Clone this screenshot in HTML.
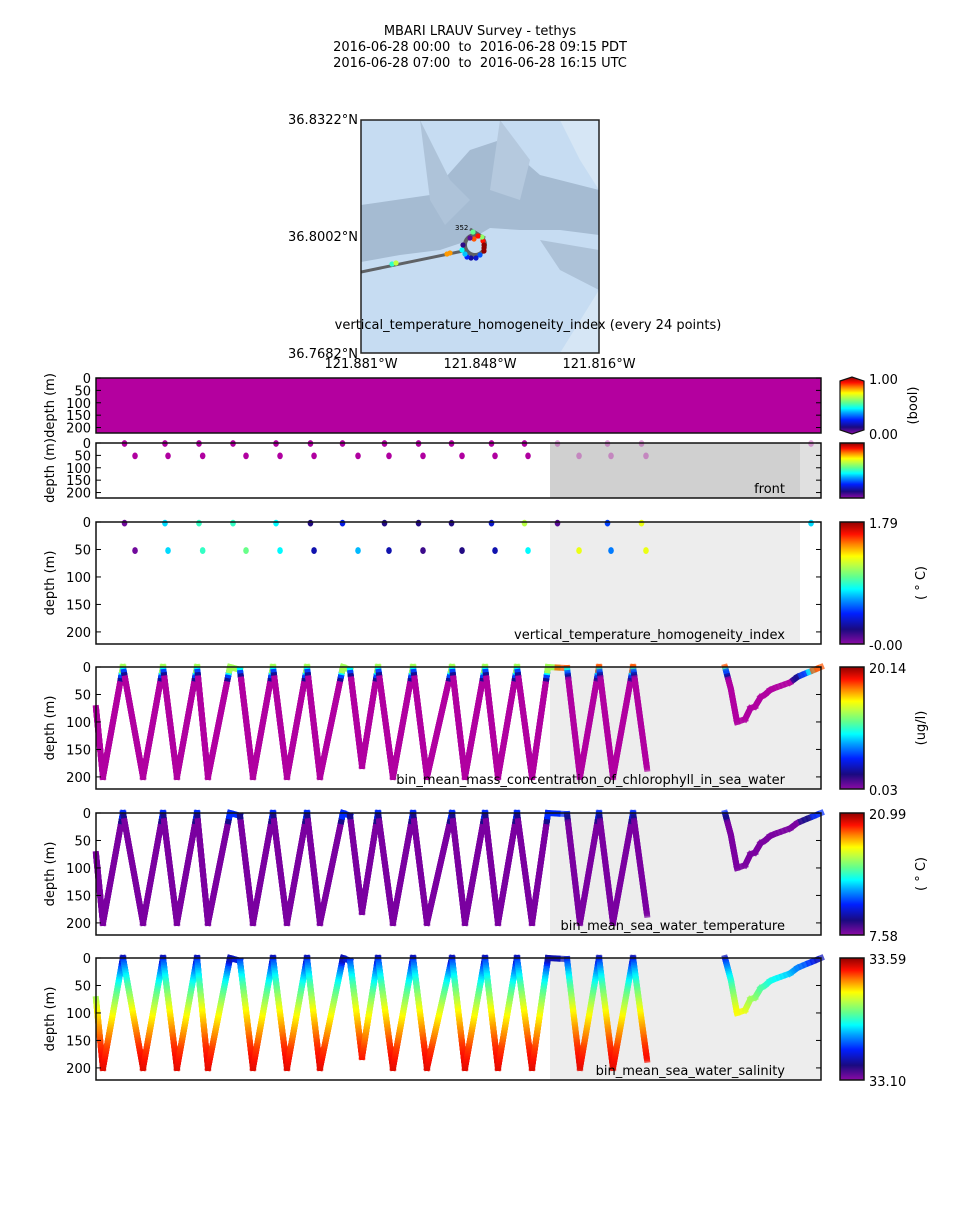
<!DOCTYPE html>
<html><head><meta charset="utf-8"><style>
html,body{margin:0;padding:0;background:#fff}
svg text{font-family:"DejaVu Sans","Liberation Sans",sans-serif;fill:#000}
</style></head><body>
<svg id="chart" width="960" height="1200" viewBox="0 0 960 1200" xmlns="http://www.w3.org/2000/svg">
<defs>
<linearGradient id="cmap" x1="0" y1="1" x2="0" y2="0">
<stop offset="0" stop-color="#8b0aa5"/><stop offset="0.12" stop-color="#1a0a80"/><stop offset="0.25" stop-color="#0020ff"/><stop offset="0.37" stop-color="#00a0ff"/><stop offset="0.45" stop-color="#00ffff"/><stop offset="0.55" stop-color="#60ff90"/><stop offset="0.65" stop-color="#c0ff40"/><stop offset="0.72" stop-color="#ffff00"/><stop offset="0.82" stop-color="#ff8000"/><stop offset="0.9" stop-color="#ff1000"/><stop offset="1" stop-color="#900000"/>
</linearGradient>
<clipPath id="mapclip"><rect x="361" y="120" width="238" height="233"/></clipPath>
</defs>
<g font-size="13" text-anchor="middle">
<text x="480" y="35">MBARI LRAUV Survey - tethys</text>
<text x="480" y="51">2016-06-28 00:00&#160; to&#160; 2016-06-28 09:15 PDT</text>
<text x="480" y="67">2016-06-28 07:00&#160; to&#160; 2016-06-28 16:15 UTC</text>
</g>
<g>
<g clip-path="url(#mapclip)">
<rect x="361" y="120" width="238" height="233" fill="#c6dcf2"/>
<path d="M361,205 L430,195 L470,150 L500,140 L540,175 L599,190 L599,235 L560,230 L520,230 L490,228 L470,240 L440,250 L400,255 L361,262 Z" fill="#a5bbd2"/>
<path d="M420,120 L450,180 L470,200 L445,225 L430,200 Z" fill="#aec3d9"/>
<path d="M500,120 L530,160 L520,200 L490,190 Z" fill="#b5c9de"/>
<path d="M540,240 L599,250 L599,290 L560,270 Z" fill="#adc2d8"/>
<path d="M560,120 L599,120 L599,190 L580,160 Z" fill="#d6e6f5"/>
<path d="M560,353 L599,290 L599,353 Z" fill="#d6e6f5"/>
<line x1="361" y1="272" x2="468" y2="250" stroke="#5f6266" stroke-width="3"/>
<circle cx="475" cy="245" r="10" fill="none" stroke="#5f6266" stroke-width="4"/>
<line x1="470" y1="229" x2="485" y2="238" stroke="#5f6266" stroke-width="3"/>
<text x="455" y="230" font-size="7" fill="#555">352</text>
<g id="mapdots"></g>
</g>
<rect x="361" y="120" width="238" height="233" fill="none" stroke="#222" stroke-width="1.5"/>
<g font-size="13">
<text x="358" y="124" text-anchor="end">36.8322°N</text>
<text x="358" y="241" text-anchor="end">36.8002°N</text>
<text x="358" y="358" text-anchor="end">36.7682°N</text>
<text x="361" y="368" text-anchor="middle">121.881°W</text>
<text x="480" y="368" text-anchor="middle">121.848°W</text>
<text x="599" y="368" text-anchor="middle">121.816°W</text>
<text x="528" y="329" text-anchor="middle">vertical_temperature_homogeneity_index (every 24 points)</text>
</g>
</g>
<g id="panels"></g>
</svg>
<script>
// time in hours from 00:00 PDT
const profileTimes1 = [0,0.089,0.344,0.600,0.855,1.033,1.289,1.429,1.710,1.837,2.003,2.258,2.437,2.692,2.858,3.151,3.241,3.394,3.598,3.789,4.045,4.223,4.542,4.708,4.963,5.129,5.371,5.563,5.767,6.010,6.175,6.418,6.596,6.852,7.030];
const profileDepths1 = [75,200,0,200,0,200,0,200,0,5,200,0,200,0,200,0,5,180,0,200,0,200,0,200,0,200,0,200,0,2,200,0,200,0,185];
const profileTimes2 = [8.025,8.100,8.178,8.281,8.350,8.408,8.480,8.536,8.600,8.663,8.760,8.855,8.950,9.046,9.150,9.250];
const profileDepths2 = [0,40,100,95,75,72,55,50,42,38,33,28,18,12,6,0];
const vthTopTimes = [0.364,0.880,1.314,1.748,2.297,2.736,3.145,3.681,4.115,4.536,5.046,5.467,5.888,6.526,6.960,9.123];
const vthTopValues = [0.05,0.75,0.9,0.9,0.8,0.2,0.4,0.2,0.2,0.2,0.35,1.15,0.1,0.5,1.25,0.75];
const vthBotTimes = [0.498,0.919,1.361,1.914,2.348,2.782,3.343,3.738,4.172,4.670,5.091,5.512,6.163,6.571,7.017];
const vthBotValues = [0.05,0.75,0.9,1.0,0.8,0.3,0.7,0.3,0.15,0.2,0.3,0.8,1.25,0.6,1.25];
const depthTicks = [0,50,100,150,200];
const colorbarMax = ["1.00","","1.79","20.14","20.99","33.59"];
const colorbarMin = ["0.00","","-0.00","0.03","7.58","33.10"];
const colorbarUnits = ["(bool)","","( \u00b0 C)","(ug/l)","( \u00b0 C)",""];
const panelTitles = ["","front","vertical_temperature_homogeneity_index","bin_mean_mass_concentration_of_chlorophyll_in_sea_water","bin_mean_sea_water_temperature","bin_mean_sea_water_salinity"];
const salDepth = [0,10,30,50,80,100,130,160,200];
const salValue = [0.16,0.3,0.42,0.52,0.64,0.72,0.8,0.87,0.93];
const mapDotX = [474,473,483,482,484,484,484,480,476,471,467,465,462,463,470,478,447,450,392,396];
const mapDotY = [239,232,241,237,245,248,251,255,258,258,257,254,250,245,238,236,254,253,264,263];
const mapDotV = [0.85,0.55,0.9,0.6,1,1,1,0.3,0.2,0.15,0.25,0.4,0.45,0.1,0.05,0.9,0.8,0.8,0.5,0.65];

const svgNS="http://www.w3.org/2000/svg";
const cstops=[[0,[139,10,165]],[0.12,[26,10,128]],[0.25,[0,32,255]],[0.37,[0,160,255]],[0.45,[0,255,255]],[0.55,[96,255,144]],[0.65,[192,255,64]],[0.72,[255,255,0]],[0.82,[255,128,0]],[0.9,[255,16,0]],[1,[144,0,0]]];
function cmap(v){v=Math.max(0,Math.min(1,v));for(let i=1;i<cstops.length;i++){if(v<=cstops[i][0]){const a=cstops[i-1],b=cstops[i];const f=(v-a[0])/(b[0]-a[0]);const c=a[1].map((x,k)=>Math.round(x+(b[1][k]-x)*f));return `rgb(${c[0]},${c[1]},${c[2]})`;}}return 'rgb(144,0,0)';}
function mk(tag,attrs,parent){const e=document.createElementNS(svgNS,tag);for(const k in attrs)e.setAttribute(k,attrs[k]);parent.appendChild(e);return e;}
const X0=96,X1=821,TMAX=9.25,DMAX=222;
function xs(t){return X0+t/TMAX*(X1-X0);}
const panels=[[378,55],[443,55],[522,122],[667,122],[813,122],[958,122]];
const root=document.getElementById('panels');

const md=document.getElementById('mapdots');
for(let i=0;i<mapDotX.length;i++){
  const c=mk('circle',{cx:mapDotX[i],cy:mapDotY[i],r:2.6,fill:cmap(mapDotV[i])},md);
  
  
}

function interp(xa,ya,x){if(x<=xa[0])return ya[0];for(let i=1;i<xa.length;i++){if(x<=xa[i]){return ya[i-1]+(ya[i]-ya[i-1])*(x-xa[i-1])/(xa[i]-xa[i-1]);}}return ya[ya.length-1];}
function colorFor(p,d,t){
  if(p===3){ if(t>5.8&&d<6) return cmap(0.85); if(d<5)return cmap(0.62); if(d<10)return cmap(0.45); if(d<16)return cmap(0.28); if(d<22)return cmap(0.14); return '#b000a0';}
  if(p===4){ if(d<6)return cmap(0.26); if(d<16)return cmap(0.13); return '#7a00a0';}
  return cmap(interp(salDepth,salValue,d));
}
function drawProfile(g,p,top,h,times,depths){
  const ys=d=>top+d/DMAX*h;
  for(let i=1;i<times.length;i++){
    const t0=times[i-1],t1=times[i],d0=depths[i-1],d1=depths[i];
    const n=Math.max(2,Math.ceil(Math.abs(d1-d0)/3));
    for(let k=0;k<n;k++){
      const ta=t0+(t1-t0)*k/n,tb=t0+(t1-t0)*(k+1)/n;
      const da=d0+(d1-d0)*k/n,db=d0+(d1-d0)*(k+1)/n;
      const l=mk('line',{x1:xs(ta),y1:ys(da),x2:xs(tb),y2:ys(db),stroke:colorFor(p,(da+db)/2,ta),'stroke-width':6,'stroke-linecap':'square',opacity:ta>5.8?0.72:1},g);
      
      
    }
  }
}
panels.forEach(([top,h],p)=>{
  const g=mk('g',{},root);
  
  
  const ys=d=>top+d/DMAX*h;
  const gx=xs(5.767)+2;
  if(p===0){ mk('rect',{x:X0,y:top,width:X1-X0,height:h,fill:'#b4009f'},g); }
  else if(p===1){ mk('rect',{x:gx,y:top,width:800-gx,height:h,fill:'#d0d0d0'},g); mk('rect',{x:800,y:top,width:X1-800,height:h,fill:'#e0e0e0'},g); }
  else if(p===2){ mk('rect',{x:gx,y:top,width:800-gx,height:h,fill:'#ededed'},g); }
  else { mk('rect',{x:gx,y:top,width:X1-gx,height:h,fill:'#ededed'},g); }
  if(p===1||p===2){
    const rows=[[vthTopTimes,vthTopValues,2],[vthBotTimes,vthBotValues,52]];
    rows.forEach(([ts,vs,dd])=>{
      for(let i=0;i<ts.length;i++){
        const col=p===1?'#b000a0':cmap(vs[i]/1.79);
        const faded=ts[i]>5.8;
        const e=mk('ellipse',{cx:xs(ts[i]),cy:ys(dd),rx:2.8,ry:3.4,fill:col,opacity:faded&&p===1?0.35:1},g);
        
        
      }
    });
  }
  if(p>=3){ drawProfile(g,p,top,h,profileTimes1,profileDepths1); drawProfile(g,p,top,h,profileTimes2,profileDepths2); }
  mk('rect',{x:X0,y:top,width:X1-X0,height:h,fill:'none',stroke:'#111','stroke-width':1.5},g);
  depthTicks.forEach(d=>{
    const y=ys(d);
    mk('line',{x1:X0,y1:y,x2:X0+5,y2:y,stroke:'#000'},g);
    mk('line',{x1:X1-5,y1:y,x2:X1,y2:y,stroke:'#000'},g);
    const tx=mk('text',{x:X0-5,y:y+5,'font-size':13,'text-anchor':'end'},g);tx.textContent=d;
  });
  const yl=mk('text',{x:0,y:0,'font-size':13,'text-anchor':'middle',transform:`translate(54,${top+h/2}) rotate(-90)`},g);
  yl.textContent='depth (m)';
  
  
  if(panelTitles[p]){const pt=mk('text',{x:785,y:top+h-5,'font-size':13,'text-anchor':'end'},g);pt.textContent=panelTitles[p];
    
    }
  const cb=mk('g',{},g);
  
  
  if(p===0){
    mk('path',{d:`M840,${top+3} L852,${top-1} L864,${top+3} L864,${top+h-3} L852,${top+h+1} L840,${top+h-3} Z`,fill:'url(#cmap)',stroke:'#111','stroke-width':1.2},cb);
  } else {
    mk('rect',{x:840,y:top,width:24,height:h,fill:'url(#cmap)',stroke:'#111','stroke-width':1.5},cb);
  }
  if(colorbarMax[p]){const t1=mk('text',{x:869,y:top+6,'font-size':13},cb);t1.textContent=colorbarMax[p];
    const t2=mk('text',{x:869,y:top+h+6,'font-size':13},cb);t2.textContent=colorbarMin[p];}
  if(colorbarUnits[p]){const u=mk('text',{x:0,y:0,'font-size':13,'text-anchor':'middle',transform:`translate(${p===0?917:925},${top+h/2}) rotate(-90)`},cb);u.textContent=colorbarUnits[p];}
});
</script>
</body></html>
